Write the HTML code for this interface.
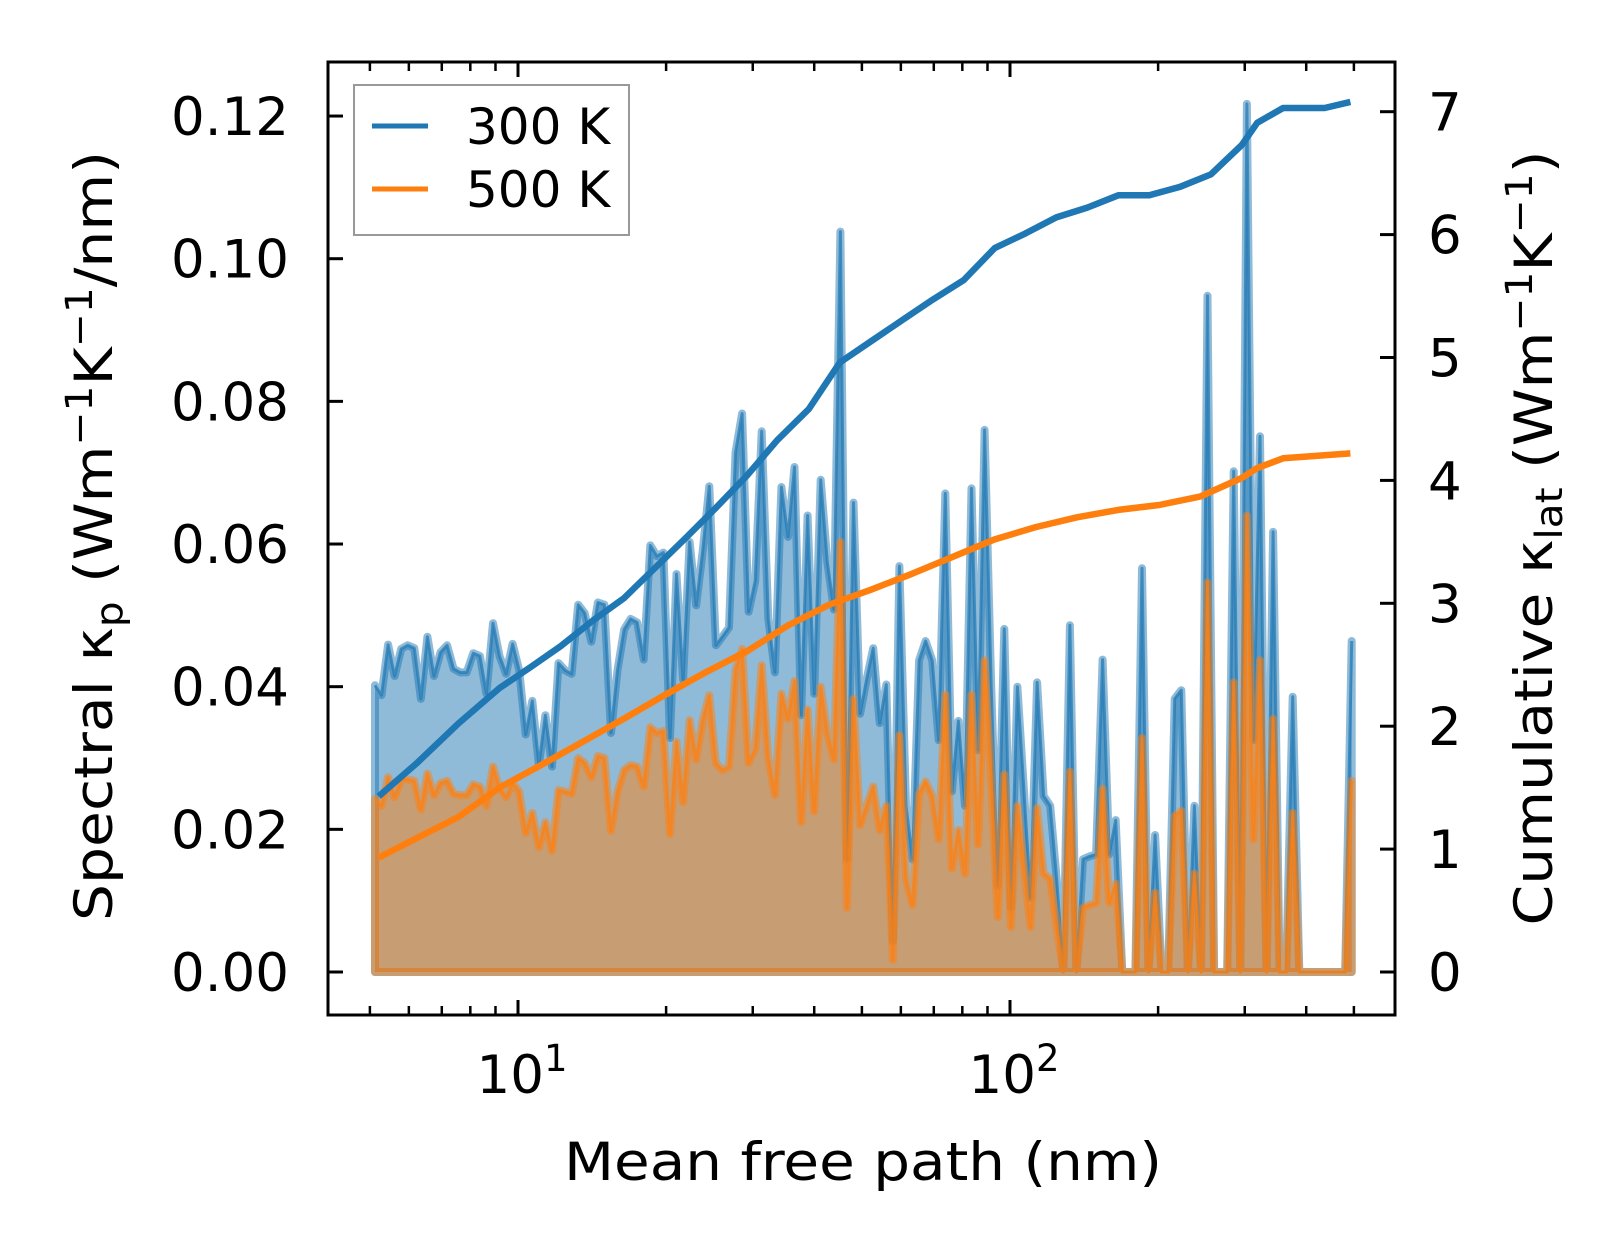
<!DOCTYPE html>
<html><head><meta charset="utf-8"><style>
html,body{margin:0;padding:0;background:#fff;}
svg{display:block;font-family:"DejaVu Sans","Liberation Sans",sans-serif;}
</style></head><body>
<svg id="chart" width="1623" height="1254" viewBox="0 0 1623 1254" xmlns="http://www.w3.org/2000/svg">
<rect width="1623" height="1254" fill="#fff"/>
<g id="fills"></g>
<g id="cumlines"></g>
<g id="ticks"></g>
<rect x="328" y="62" width="1067" height="953" fill="none" stroke="#000" stroke-width="3"/>
<g id="ticklabels" font-size="53" fill="#000"></g>
<text x="863" y="1180" font-size="53" text-anchor="middle" textLength="598" lengthAdjust="spacingAndGlyphs">Mean free path (nm)</text>
<text transform="translate(112,536) rotate(-90)" font-size="53" text-anchor="middle" textLength="770" lengthAdjust="spacingAndGlyphs">Spectral κ<tspan font-size="37" dy="10">p</tspan><tspan dy="-10"> (Wm</tspan><tspan font-size="37" dy="-20">−1</tspan><tspan dy="20">K</tspan><tspan font-size="37" dy="-20">−1</tspan><tspan dy="20">/nm)</tspan></text>
<text transform="translate(1552,538) rotate(-90)" font-size="53" text-anchor="middle" textLength="775" lengthAdjust="spacingAndGlyphs">Cumulative κ<tspan font-size="37" dy="10">lat</tspan><tspan dy="-10"> (Wm</tspan><tspan font-size="37" dy="-20">−1</tspan><tspan dy="20">K</tspan><tspan font-size="37" dy="-20">−1</tspan><tspan dy="20">)</tspan></text>
<g>
<rect x="354" y="85" width="275" height="150" fill="#fff" fill-opacity="0.8" stroke="#999" stroke-width="2"/>
<line x1="372" y1="126" x2="428" y2="126" stroke="#1f77b4" stroke-width="5"/>
<text x="466" y="144" font-size="50">300 K</text>
<line x1="372" y1="189" x2="428" y2="189" stroke="#ff7f0e" stroke-width="5"/>
<text x="466" y="207" font-size="50">500 K</text>
</g>
</svg>
<script>
const NS="http://www.w3.org/2000/svg";
const mfpMin=5.12, mfpMax=495, nBins=150;
const k300=[0.0402,0.0388,0.0459,0.0415,0.0453,0.0458,0.0454,0.0383,0.047,0.0415,0.0448,0.0458,0.0425,0.042,0.042,0.0447,0.0443,0.039,0.0489,0.0443,0.0418,0.046,0.0423,0.0333,0.038,0.029,0.036,0.0288,0.0433,0.0423,0.0418,0.0515,0.0503,0.0463,0.0518,0.0515,0.0335,0.0423,0.048,0.0495,0.049,0.0438,0.0598,0.0583,0.0588,0.0328,0.0558,0.041,0.0603,0.0514,0.059,0.0681,0.0458,0.047,0.0483,0.0728,0.0783,0.0505,0.0548,0.0758,0.0495,0.042,0.068,0.061,0.0708,0.036,0.064,0.039,0.069,0.0575,0.0508,
0.1038,0.0158,0.0658,0.0362,0.041,0.0454,0.0349,0.0403,0.0043,0.0569,0.0233,0.0158,0.0437,0.0464,0.0437,0.0325,0.0671,0.0253,0.0352,0.0233,0.0678,0.0311,0.076,0.04,0.0121,0.0481,0.009,0.04,0.0253,0.0104,0.0406,0.0247,0.0233,0.013,0,0.0486,0,0.0158,0.0162,0.0165,0.0438,0.0165,0.0213,0,0,0,0.0566,0,0.0192,0,0,0.0383,0.0395,0,0.0233,0,0.0948,0,0,0,0.0702,0,0.1217,0.0325,0.0751,0,0.0617,0,0,0.0386,0,0,0,0,0,0,0,0,0.0464];
const k500=[0.0243,0.0233,0.0273,0.0245,0.027,0.027,0.0268,0.0228,0.0278,0.0248,0.0265,0.0268,0.025,0.0248,0.0248,0.0263,0.026,0.0233,0.0288,0.0258,0.0245,0.0265,0.0253,0.0195,0.0223,0.0175,0.021,0.017,0.0255,0.0253,0.025,0.03,0.0293,0.0273,0.0303,0.03,0.0198,0.0253,0.0283,0.029,0.0288,0.026,0.0343,0.0335,0.0338,0.0193,0.0323,0.0238,0.0353,0.0298,0.0353,0.0388,0.0293,0.0283,0.0288,0.0423,0.0453,0.0293,0.0313,0.043,0.03,0.0248,0.039,0.0355,0.0408,0.021,0.0368,0.0225,0.04,0.0335,0.0298,
0.0603,0.009,0.0383,0.0206,0.0233,0.026,0.0199,0.0233,0.0017,0.0332,0.0131,0.0094,0.025,0.0267,0.0247,0.0186,0.0389,0.0145,0.0199,0.0138,0.0389,0.0179,0.0437,0.0267,0.0077,0.0277,0.0063,0.0233,0.0145,0.0063,0.023,0.0138,0.0131,0.0063,0,0.0281,0,0.009,0.0094,0.0097,0.0257,0.0097,0.0124,0,0,0,0.0328,0,0.0111,0,0,0.0219,0.0226,0,0.0138,0,0.0546,0,0,0,0.0406,0,0.064,0.0186,0.0437,0,0.0355,0,0,0.0223,0,0,0,0,0,0,0,0,0.0268];
const cumMfp300=[5.21,6.23,7.56,9.17,10.6,12.2,14.2,16.4,18.9,21.9,25.3,29.2,33.7,39.0,45.1,52.1,60.2,69.6,80.5,93.1,107.5,124.2,143.6,166,191.9,222,256,296,318,359,436,492];
const cum300=[1.43,1.70,2.02,2.31,2.48,2.65,2.86,3.04,3.28,3.53,3.78,4.04,4.33,4.58,4.96,5.13,5.30,5.47,5.63,5.89,6.01,6.14,6.22,6.32,6.32,6.39,6.49,6.73,6.91,7.03,7.03,7.08];
const cumMfp500=[5.21,6.23,7.56,9.17,11.1,13.5,16.4,19.8,24.1,29.2,35.4,43.0,52.1,63.2,76.7,93.1,112.8,136.8,166,201,244,296,318,359,492];
const cum500=[0.93,1.09,1.26,1.50,1.68,1.87,2.06,2.25,2.44,2.61,2.82,2.99,3.11,3.24,3.38,3.52,3.62,3.70,3.76,3.80,3.87,4.02,4.10,4.18,4.22];
const leftTicks=[0,0.02,0.04,0.06,0.08,0.10,0.12];
const leftTickLabels=["0.00","0.02","0.04","0.06","0.08","0.10","0.12"];
const rightTicks=[0,1,2,3,4,5,6,7];
const xMajor=[10,100];
const xMajorExp=["1","2"];
const xMinor=[5,6,7,8,9,20,30,40,50,60,70,80,90,200,300,400,500];

const X=v=>518+492*(Math.log10(v)-1);
const YL=v=>972-7133*v;
const YR=v=>972-122.9*v;
const mfp=[];
for(let i=0;i<nBins;i++){mfp.push(Math.pow(10,Math.log10(mfpMin)+i*(Math.log10(mfpMax)-Math.log10(mfpMin))/(nBins-1)));}

function mk(tag,attrs,parent){const e=document.createElementNS(NS,tag);for(const k in attrs)e.setAttribute(k,attrs[k]);parent.appendChild(e);return e;}
const fills=document.getElementById('fills');
function series(vals,color,nm){
  const n=Math.min(vals.length,mfp.length);
  let line="",area="M"+X(mfp[0]).toFixed(1)+","+YL(0);
  for(let i=0;i<n;i++){const p=X(mfp[i]).toFixed(1)+","+YL(vals[i]).toFixed(1);line+=(i?"L":"M")+p;area+="L"+p;}
  area+="L"+X(mfp[n-1]).toFixed(1)+","+YL(0)+"Z";
  const a=mk('path',{d:area,fill:color,'fill-opacity':0.5,stroke:color,'stroke-opacity':0.5,'stroke-width':8,'stroke-linejoin':'round'},fills);
  
  
  const l=mk('path',{d:line,fill:'none',stroke:color,'stroke-opacity':0.7,'stroke-width':3,'stroke-linejoin':'round'},fills);
  
  
}
series(k300,'#1f77b4','k300');
series(k500,'#ff7f0e','k500');
const cl=document.getElementById('cumlines');
function cum(xs,ys,color,nm){
  let d="";for(let i=0;i<xs.length;i++)d+=(i?"L":"M")+X(xs[i]).toFixed(1)+","+YR(ys[i]).toFixed(1);
  const p=mk('path',{d:d,fill:'none',stroke:color,'stroke-width':6.5,'stroke-linejoin':'round'},cl);
  
  
}
cum(cumMfp300,cum300,'#1f77b4','k300');
cum(cumMfp500,cum500,'#ff7f0e','k500');

const tg=document.getElementById('ticks'), tl=document.getElementById('ticklabels');
leftTicks.forEach((v,i)=>{
  const y=YL(v);
  const t=mk('line',{x1:328,x2:343,y1:y,y2:y,stroke:'#000','stroke-width':3},tg);
  
  
  const s=mk('text',{x:289,y:y+19,'text-anchor':'end'},tl);s.textContent=leftTickLabels[i];
  
  
});
rightTicks.forEach(v=>{
  const y=YR(v);
  const t=mk('line',{x1:1380,x2:1395,y1:y,y2:y,stroke:'#000','stroke-width':3},tg);
  
  
  const s=mk('text',{x:1428,y:y+19},tl);s.textContent=String(v);
  
  
});
xMajor.forEach((v,i)=>{
  const x=X(v);
  [[1015,1000],[62,77]].forEach(([a,b])=>{
    const t=mk('line',{x1:x,x2:x,y1:a,y2:b,stroke:'#000','stroke-width':3},tg);
    
    
  });
  const s=mk('text',{x:x+4,y:1093,'text-anchor':'middle'},tl);
  
  
  s.textContent="10";
  const sp=mk('tspan',{'font-size':37,dy:-22},s);sp.textContent=xMajorExp[i];
});
xMinor.forEach(v=>{
  const x=X(v);
  [[1015,1006],[62,71]].forEach(([a,b])=>{
    const t=mk('line',{x1:x,x2:x,y1:a,y2:b,stroke:'#000','stroke-width':2.5},tg);
    
    
  });
});
</script>
</body></html>
